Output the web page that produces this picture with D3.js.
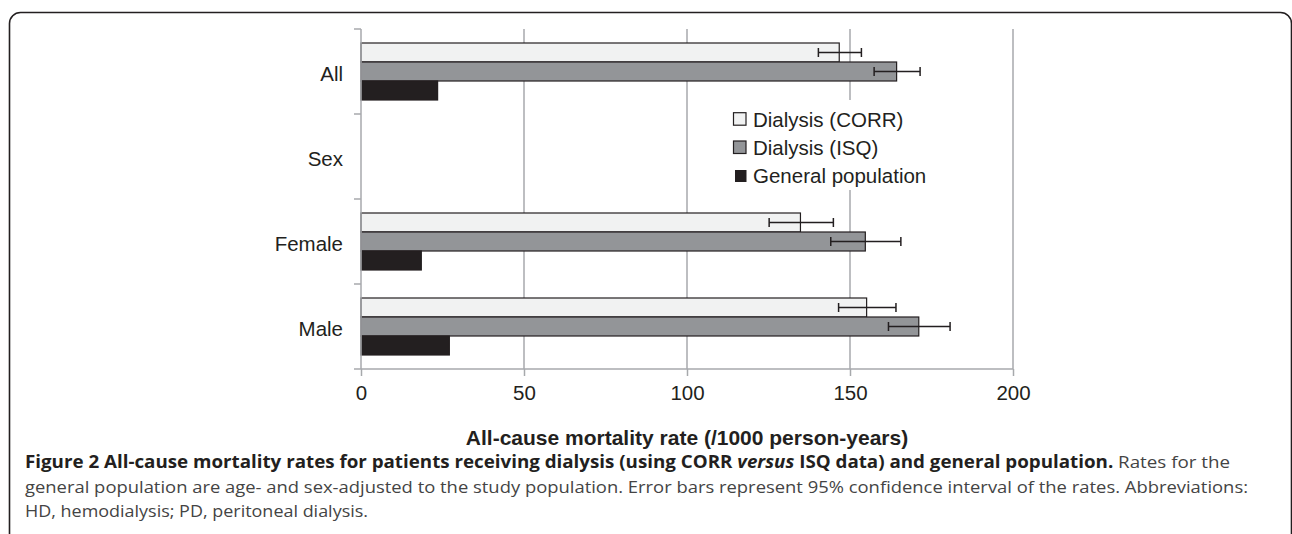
<!DOCTYPE html>
<html>
<head>
<meta charset="utf-8">
<script src="https://cdn.jsdelivr.net/npm/d3@7"></script>
<style>
  body { margin: 0; background: #fff; }
  svg { display: block; font-family: "Liberation Sans", Arial, Helvetica, sans-serif; }
</style>
</head>
<body>
<div id="vis"></div>
<script>
// data (rates per 1000 person-years)
const CATEGORIES = ["All", "Sex", "Female", "Male"];
const SERIES = ["Dialysis (CORR)", "Dialysis (ISQ)", "General population"];
const CORR_RATE = [146.7, null, 134.8, 155.1];
const CORR_LOW = [140.3, null, 125.2, 146.5];
const CORR_HIGH = [153.5, null, 144.9, 164.1];
const ISQ_RATE = [164.3, null, 154.7, 171.1];
const ISQ_LOW = [157.4, null, 144.1, 161.8];
const ISQ_HIGH = [171.5, null, 165.6, 180.7];
const GENERAL_RATE = [23.5, null, 18.5, 27.1];
const X_TICKS = [0, 50, 100, 150, 200];

const AXIS_TITLE = "All-cause mortality rate (/1000 person-years)";

//Declare constants for frame
const FRAME_WIDTH = 1292;
const FRAME_HEIGHT = 534;
const MARGINS = {left: 361, right: 279, top: 29, bottom: 165};
const VIS_WIDTH = FRAME_WIDTH - MARGINS.left - MARGINS.right;
const VIS_HEIGHT = FRAME_HEIGHT - MARGINS.top - MARGINS.bottom;

const FILLS = ["#f1f2f2", "#939598", "#231f20"];
const DARK = "#231f20";
const GRID = "#a7a9ac";
const FONT_SIZE = "20.5px";

const FRAME = d3.select("#vis")
                .append("svg")
                  .attr("width", FRAME_WIDTH)
                  .attr("height", FRAME_HEIGHT);

// outer rounded figure box (runs off the right and bottom edge)
FRAME.append("rect")
      .attr("x", 9.5)
      .attr("y", 12.5)
      .attr("width", 1282)
      .attr("height", 600)
      .attr("rx", 11)
      .attr("fill", "none")
      .attr("stroke", DARK)
      .attr("stroke-width", 1.6);

// scales
const X_SCALE = d3.scaleLinear()
                  .domain([0, 200])
                  .range([MARGINS.left, MARGINS.left + VIS_WIDTH]);

const Y_SCALE = d3.scaleBand()
                  .domain(CATEGORIES)
                  .range([MARGINS.top, MARGINS.top + VIS_HEIGHT])
                  .paddingInner(28 / 85)
                  .paddingOuter(14 / 85);

const SERIES_SCALE = d3.scaleBand()
                  .domain(SERIES)
                  .range([0, Y_SCALE.bandwidth()]);

// rows built from the arrays
const rows = [];
CATEGORIES.forEach((c, i) => {
  const vals = [CORR_RATE[i], ISQ_RATE[i], GENERAL_RATE[i]];
  const lows = [CORR_LOW[i], ISQ_LOW[i], null];
  const highs = [CORR_HIGH[i], ISQ_HIGH[i], null];
  SERIES.forEach((s, j) => {
    if (vals[j] != null) {
      rows.push({cat: c, series: s, idx: j, value: vals[j], low: lows[j], high: highs[j]});
    }
  });
});

// gridlines
FRAME.append("g")
  .selectAll("line")
  .data(X_TICKS.filter((d) => d > 0))
  .enter()
  .append("line")
    .attr("x1", (d) => X_SCALE(d))
    .attr("x2", (d) => X_SCALE(d))
    .attr("y1", MARGINS.top)
    .attr("y2", MARGINS.top + VIS_HEIGHT)
    .attr("stroke", GRID)
    .attr("stroke-width", 1.5);

// bars
FRAME.append("g")
  .selectAll("rect")
  .data(rows)
  .enter()
  .append("rect")
    .attr("x", X_SCALE(0))
    .attr("y", (d) => Y_SCALE(d.cat) + SERIES_SCALE(d.series))
    .attr("width", (d) => X_SCALE(d.value) - X_SCALE(0))
    .attr("height", SERIES_SCALE.bandwidth())
    .attr("fill", (d) => FILLS[d.idx])
    .attr("stroke", DARK)
    .attr("stroke-width", 1.2);

// error bars
const errs = rows.filter((d) => d.low != null);
const CAP = 4.5;
const ERR = FRAME.append("g")
                 .attr("stroke", DARK)
                 .attr("stroke-width", 1.5);
errs.forEach((d) => {
  const yc = Y_SCALE(d.cat) + SERIES_SCALE(d.series) + SERIES_SCALE.bandwidth() / 2;
  ERR.append("line")
      .attr("x1", X_SCALE(d.low)).attr("x2", X_SCALE(d.high))
      .attr("y1", yc).attr("y2", yc);
  [d.low, d.high].forEach((v) => {
    ERR.append("line")
        .attr("x1", X_SCALE(v)).attr("x2", X_SCALE(v))
        .attr("y1", yc - CAP).attr("y2", yc + CAP);
  });
});

// y axis: labels centred on the band, ticks on band edges
const yAxis = FRAME.append("g")
      .attr("transform", "translate(" + MARGINS.left + ",0)")
      .call(d3.axisLeft(Y_SCALE).tickSize(0).tickPadding(18));
yAxis.select(".domain").remove();
yAxis.selectAll("text")
      .attr("font-size", FONT_SIZE)
      .attr("font-family", "Liberation Sans, Arial, sans-serif")
      .attr("fill", DARK)
      .attr("dy", "0.48em");

const edges = d3.range(CATEGORIES.length + 1).map((i) => MARGINS.top + i * Y_SCALE.step());
FRAME.append("g")
  .selectAll("line")
  .data(edges)
  .enter()
  .append("line")
    .attr("x1", MARGINS.left - 7)
    .attr("x2", MARGINS.left)
    .attr("y1", (d) => d)
    .attr("y2", (d) => d)
    .attr("stroke", GRID)
    .attr("stroke-width", 1.5);

FRAME.append("line")
      .attr("x1", MARGINS.left).attr("x2", MARGINS.left)
      .attr("y1", MARGINS.top).attr("y2", MARGINS.top + VIS_HEIGHT)
      .attr("stroke", GRID)
      .attr("stroke-width", 1.5);

// x axis
const xAxis = FRAME.append("g")
      .attr("transform", "translate(0," + (MARGINS.top + VIS_HEIGHT) + ")")
      .call(d3.axisBottom(X_SCALE).tickValues(X_TICKS).tickSize(7).tickPadding(9));
xAxis.select(".domain")
      .attr("stroke", GRID)
      .attr("stroke-width", 1.5)
      .attr("d", "M" + X_SCALE(0) + ",0H" + X_SCALE(200));
xAxis.selectAll(".tick line")
      .attr("stroke", GRID)
      .attr("stroke-width", 1.5);
xAxis.selectAll("text")
      .attr("font-size", FONT_SIZE)
      .attr("font-family", "Liberation Sans, Arial, sans-serif")
      .attr("fill", DARK);

// axis title
FRAME.append("text")
      .attr("x", (X_SCALE(0) + X_SCALE(200)) / 2)
      .attr("y", 445)
      .attr("text-anchor", "middle")
      .attr("font-size", "21px")
      .attr("font-weight", "bold")
      .attr("fill", DARK)
      .text(AXIS_TITLE);

// legend
const LEGEND = FRAME.append("g");
LEGEND.append("rect")
      .attr("x", 729).attr("y", 100)
      .attr("width", 206).attr("height", 90)
      .attr("fill", "#fff");
SERIES.forEach((s, i) => {
  const y0 = 112.7 + i * 28.3;
  LEGEND.append("rect")
        .attr("x", i < 2 ? 733.5 : 735)
        .attr("y", i < 2 ? y0 : y0 + 0.7)
        .attr("width", i < 2 ? 12.5 : 11.5)
        .attr("height", i < 2 ? 12.5 : 12)
        .attr("fill", FILLS[i])
        .attr("stroke", i < 2 ? DARK : "none")
        .attr("stroke-width", 1.2);
  LEGEND.append("text")
        .attr("x", 753)
        .attr("y", y0 + 14)
        .attr("font-size", FONT_SIZE)
        .attr("fill", DARK)
        .text(s);
});

// figure caption
const CAPTION = FRAME.append("g")
      .attr("font-family", "'Open Sans', 'Noto Sans', sans-serif")
      .attr("font-size", "17px");

const line1 = CAPTION.append("text")
      .attr("x", 25).attr("y", 468)
      .attr("textLength", 1205)
      .attr("lengthAdjust", "spacingAndGlyphs");
line1.append("tspan").attr("font-weight", "bold").attr("fill", DARK)
      .text("Figure 2 All-cause mortality rates for patients receiving dialysis (using CORR ");
line1.append("tspan").attr("font-weight", "bold").attr("font-style", "italic").attr("fill", DARK)
      .text("versus");
line1.append("tspan").attr("font-weight", "bold").attr("fill", DARK)
      .text(" ISQ data) and general population.");
line1.append("tspan").attr("fill", "#444")
      .text(" Rates for the");

CAPTION.append("text")
      .attr("x", 25).attr("y", 493)
      .attr("textLength", 1223)
      .attr("lengthAdjust", "spacingAndGlyphs")
      .attr("fill", "#444")
      .text("general population are age- and sex-adjusted to the study population. Error bars represent 95% confidence interval of the rates. Abbreviations:");

CAPTION.append("text")
      .attr("x", 25).attr("y", 517)
      .attr("textLength", 343)
      .attr("lengthAdjust", "spacingAndGlyphs")
      .attr("fill", "#444")
      .text("HD, hemodialysis; PD, peritoneal dialysis.");
</script>
</body>
</html>
